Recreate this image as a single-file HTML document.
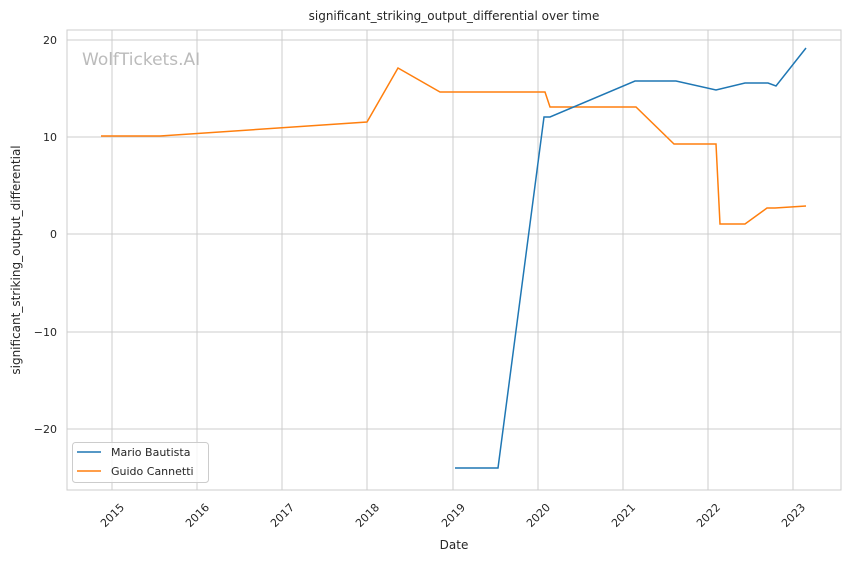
<!DOCTYPE html>
<html><head><meta charset="utf-8"><style>body{margin:0;background:#fff}svg{display:block}text{font-family:"DejaVu Sans","Liberation Sans",sans-serif;fill:#262626}</style></head>
<body>
<svg width="850" height="561" viewBox="0 0 850 561">
<rect x="67" y="30" width="774" height="460" fill="#fff" stroke="#ccc" stroke-width="1"/>
<g stroke="#ccc" stroke-width="1">
<line x1="112" y1="30" x2="112" y2="490"/><line x1="197" y1="30" x2="197" y2="490"/><line x1="282" y1="30" x2="282" y2="490"/><line x1="367" y1="30" x2="367" y2="490"/><line x1="453" y1="30" x2="453" y2="490"/><line x1="538" y1="30" x2="538" y2="490"/><line x1="623" y1="30" x2="623" y2="490"/><line x1="708" y1="30" x2="708" y2="490"/><line x1="793" y1="30" x2="793" y2="490"/>
<line x1="67" y1="40" x2="841" y2="40"/><line x1="67" y1="137" x2="841" y2="137"/><line x1="67" y1="234" x2="841" y2="234"/><line x1="67" y1="332" x2="841" y2="332"/><line x1="67" y1="429" x2="841" y2="429"/>
</g>
<text x="82" y="65" font-size="17" style="fill:#bbb">WolfTickets.AI</text>
<polyline fill="none" stroke="#ff7f0e" stroke-width="1.5" points="101,136 160,136 367,122 398,68 440,92 545,92 550,107 636,107 674,144 716,144 720,224 745,224 767,208 775,208 806,206"/>
<polyline fill="none" stroke="#1f77b4" stroke-width="1.5" points="455,468 498,468 544,117 550,117 635,81 676,81 716,90 745,83 768,83 776,86 806,48"/>
<g font-size="11" text-anchor="end">
<text x="57" y="44">20</text><text x="57" y="141">10</text><text x="57" y="238">0</text><text x="57" y="336">−10</text><text x="57" y="433">−20</text>
</g>
<g font-size="11" text-anchor="middle">
<text transform="translate(115,518) rotate(-45)">2015</text>
<text transform="translate(200,518) rotate(-45)">2016</text>
<text transform="translate(285,518) rotate(-45)">2017</text>
<text transform="translate(370,518) rotate(-45)">2018</text>
<text transform="translate(456,518) rotate(-45)">2019</text>
<text transform="translate(541,518) rotate(-45)">2020</text>
<text transform="translate(626,518) rotate(-45)">2021</text>
<text transform="translate(711,518) rotate(-45)">2022</text>
<text transform="translate(796,518) rotate(-45)">2023</text>
</g>
<text x="454" y="549" font-size="12" text-anchor="middle">Date</text>
<text transform="translate(20,260) rotate(-90)" font-size="12" text-anchor="middle">significant_striking_output_differential</text>
<text x="454" y="20" font-size="12" text-anchor="middle">significant_striking_output_differential over time</text>
<rect x="72.5" y="442.5" width="136" height="40" rx="3" fill="#fff" fill-opacity="0.8" stroke="#ccc"/>
<line x1="77" y1="452" x2="101" y2="452" stroke="#1f77b4" stroke-width="1.5"/>
<line x1="77" y1="471" x2="101" y2="471" stroke="#ff7f0e" stroke-width="1.5"/>
<text x="111" y="456" font-size="11">Mario Bautista</text>
<text x="111" y="475" font-size="11">Guido Cannetti</text>
</svg>
</body></html>
